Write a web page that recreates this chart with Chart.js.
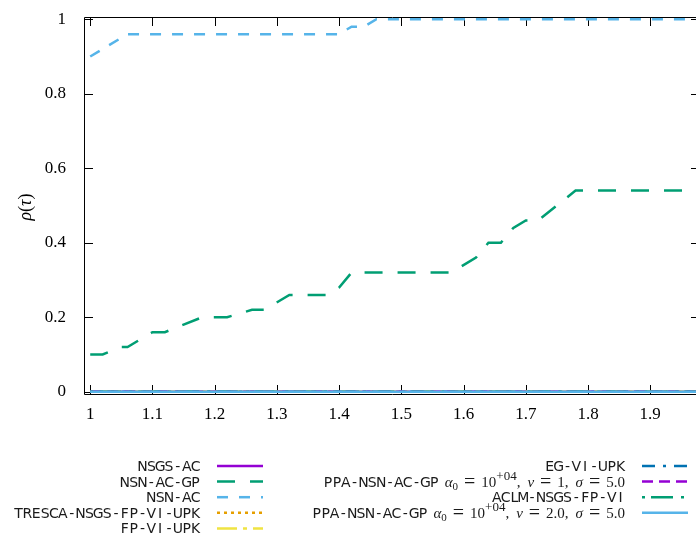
<!DOCTYPE html>
<html>
<head>
<meta charset="utf-8">
<script src="https://cdn.jsdelivr.net/npm/chart.js@4.4.1/dist/chart.umd.min.js"></script>
<style>
  html, body { margin: 0; padding: 0; background: #fff; overflow: hidden; }
  #wrap { width: 710px; height: 535px; }
</style>
</head>
<body>
<div id="wrap"><canvas id="profile" width="710" height="535"></canvas></div>
<script>
// tick values
const xTicks = [1, 1.1, 1.2, 1.3, 1.4, 1.5, 1.6, 1.7, 1.8, 1.9];
const yTicks = [0, 0.2, 0.4, 0.6, 0.8, 1];

// performance profiles (tau, rho)
const tauNsnAc = [1, 1.06, 1.40, 1.42, 1.44, 1.46, 2];
const rhoNsnAc = [0.90, 0.96, 0.96, 0.98, 0.98, 1.00, 1.00];

const tauNsnAcGp = [1, 1.02, 1.05, 1.06, 1.10, 1.12, 1.18, 1.22, 1.26, 1.28, 1.32, 1.38, 1.40, 1.42,
                    1.58, 1.62, 1.64, 1.66, 1.68, 1.70, 1.72, 1.78, 2];
const rhoNsnAcGp = [0.10, 0.10, 0.12, 0.12, 0.16, 0.16, 0.20, 0.20, 0.22, 0.22, 0.26, 0.26, 0.28, 0.32,
                    0.32, 0.36, 0.40, 0.40, 0.44, 0.46, 0.46, 0.54, 0.54];

// solvers that never reach a solution
const tauZero = [1, 2];
const rhoZero = [0, 0];

// legend labels: plain text is sans, {i:..} italic math, {r:..} roman math,
// {eq} equals sign, {sub:..}/{sup:..}, {sp:n} a gap of n px
const labels = [
  'NSGS-AC',
  'NSN-AC-GP',
  'NSN-AC',
  'TRESCA-NSGS-FP-VI-UPK',
  'FP-VI-UPK',
  'EG-VI-UPK',
  'PPA-NSN-AC-GP{sp:6}{i:α}{sub:0}{sp:6}{eq}{sp:6}{r:10}{sup:+04}{r:,}{sp:7}{i:ν}{sp:6}{eq}{sp:6}{r:1,}{sp:7}{i:σ}{sp:6}{eq}{sp:6}{r:5.0}',
  'ACLM-NSGS-FP-VI',
  'PPA-NSN-AC-GP{sp:6}{i:α}{sub:0}{sp:6}{eq}{sp:6}{r:10}{sup:+04}{r:,}{sp:7}{i:ν}{sp:6}{eq}{sp:6}{r:2.0,}{sp:7}{i:σ}{sp:6}{eq}{sp:6}{r:5.0}'
];
const colors = ['#9400d3', '#009e73', '#56b4e9', '#e69f00', '#f0e442', '#0072b2', '#9400d3', '#009e73', '#56b4e9'];
const dashes = [[], [18, 15], [11, 11], [3, 4], [20, 6, 4, 6], [13, 8, 3, 8], [11, 6], [3, 6, 22, 8], []];

function pts(t, r) { return t.map((v, i) => ({x: v, y: r[i]})); }
const series = [
  pts(tauZero, rhoZero), pts(tauNsnAcGp, rhoNsnAcGp), pts(tauNsnAc, rhoNsnAc),
  pts(tauZero, rhoZero), pts(tauZero, rhoZero), pts(tauZero, rhoZero),
  pts(tauZero, rhoZero), pts(tauZero, rhoZero), pts(tauZero, rhoZero)
];

const SANS = '"DejaVu Sans"';
const SERIF = '"Liberation Serif"';
const ADV = 8.85; // legend sans text advance per character

function parseRich(s) {
  const out = [];
  const re = /\{(i|r|sub|sup|sp|eq):?([^}]*)\}|([^{]+)/g;
  let m;
  while ((m = re.exec(s))) {
    if (m[3] !== undefined) out.push({t: m[3], k: 's'});
    else out.push({t: m[2], k: m[1]});
  }
  return out;
}
function segFont(k, big) {
  const sz = big ? 18 : 15;
  if (k === 's') return ['14px ' + SANS, 0];
  if (k === 'i') return ['italic ' + sz + 'px ' + SERIF, 0];
  if (k === 'r') return [sz + 'px ' + SERIF, 0];
  if (k === 'eq') return ['20px ' + SERIF, 1];
  if (k === 'sub') return ['11px ' + SERIF, 3];
  return ['13px ' + SERIF, -7];
}
function drawRich(ctx, segs, x, base, align, big) {
  let w = 0;
  segs.forEach(sg => {
    if (sg.k === 'sp') sg.w = +sg.t;
    else if (sg.k === 's') sg.w = sg.t.length * ADV;
    else {
      if (sg.k === 'eq') sg.t = '=';
      ctx.font = segFont(sg.k, big)[0];
      sg.w = ctx.measureText(sg.t).width;
    }
    w += sg.w;
  });
  let cx = align === 'center' ? x - w / 2 : x - w;
  ctx.textBaseline = 'alphabetic';
  segs.forEach(sg => {
    if (sg.k === 'sp') { cx += sg.w; return; }
    const f = segFont(sg.k, big);
    ctx.font = f[0];
    if (sg.k === 's') {
      ctx.textAlign = 'center';
      [...sg.t].forEach((ch, j) => ctx.fillText(ch, cx + (j + 0.5) * ADV, base));
    } else {
      ctx.textAlign = 'left';
      ctx.fillText(sg.t, cx, base + f[1]);
    }
    cx += sg.w;
  });
}

const frame = {
  id: 'frame',
  beforeDatasetsDraw(chart) {
    const {ctx, chartArea: a, scales: {x, y}} = chart;
    ctx.save();
    ctx.strokeStyle = '#000';
    ctx.lineWidth = 1;
    ctx.beginPath();
    ctx.rect(a.left + 0.5, a.top + 0.5, a.right - a.left, a.bottom - a.top);
    xTicks.forEach(v => {
      const px = Math.round(x.getPixelForValue(v)) + 0.5;
      ctx.moveTo(px, a.bottom); ctx.lineTo(px, a.bottom - 9);
      ctx.moveTo(px, a.top); ctx.lineTo(px, a.top + 9);
    });
    yTicks.forEach(v => {
      const py = Math.round(y.getPixelForValue(v)) + 0.5;
      ctx.moveTo(a.left, py); ctx.lineTo(a.left + 9, py);
      ctx.moveTo(a.right, py); ctx.lineTo(a.right - 9, py);
    });
    ctx.stroke();
    ctx.restore();
  },
  afterDraw(chart) {
    const ctx = chart.ctx;
    ctx.save();
    // y axis title
    ctx.fillStyle = '#000';
    ctx.translate(31, 207);
    ctx.rotate(-Math.PI / 2);
    drawRich(ctx, parseRich('{i:ρ}{r:(}{i:τ}{r:)}'), 0, 0, 'center', true);
    ctx.restore();

    // legend
    chart.data.datasets.forEach((ds, i) => {
      const col = i < 5 ? 0 : 1;
      const row = col ? i - 5 : i;
      const yc = 466 + row * 15.6;
      const textRight = col ? 625 : 200;
      const x0 = col ? 642 : 217;
      ctx.save();
      ctx.strokeStyle = ds.borderColor;
      ctx.lineWidth = 2.5;
      ctx.setLineDash(ds.borderDash);
      ctx.beginPath();
      ctx.moveTo(x0, yc);
      ctx.lineTo(x0 + 46, yc);
      ctx.stroke();
      ctx.restore();
      ctx.save();
      ctx.fillStyle = '#1a1a1a';
      drawRich(ctx, parseRich(ds.label), textRight, yc + 5, 'right');
      ctx.restore();
    });
  }
};

const tickFmt = v => String(Math.round(v * 10) / 10);

new Chart(document.getElementById('profile').getContext('2d'), {
  type: 'line',
  data: {
    datasets: series.map((d, i) => ({
      label: labels[i],
      data: d,
      borderColor: colors[i],
      backgroundColor: colors[i],
      borderDash: dashes[i],
      borderWidth: 2.5,
      pointRadius: 0,
      tension: 0,
      fill: false,
      order: series.length - i,
    })),
  },
  options: {
    responsive: false,
    animation: false,
    devicePixelRatio: 1,
    layout: { padding: { left: 0, right: 10, top: 17, bottom: 0 } },
    plugins: { legend: { display: false }, tooltip: { enabled: false } },
    scales: {
      x: {
        type: 'linear',
        min: 0.99,
        max: 1.98,
        grid: { display: false, drawTicks: true, tickLength: 10 },
        border: { display: false },
        afterBuildTicks: s => { s.ticks = xTicks.map(v => ({value: v})); },
        afterFit: s => { s.height = 141; },
        ticks: { callback: tickFmt, color: '#000', padding: 0, maxRotation: 0, autoSkip: false,
                 font: { family: SERIF, size: 17 } },
      },
      y: {
        min: -0.006,
        max: 1.006,
        grid: { display: false, drawTicks: true, tickLength: 18 },
        border: { display: false },
        afterBuildTicks: s => { s.ticks = yTicks.map(v => ({value: v})); },
        afterFit: s => { s.width = 84; },
        ticks: { callback: tickFmt, color: '#000', padding: 0,
                 font: { family: SERIF, size: 17 } },
      },
    },
  },
  plugins: [frame],
});
</script>
</body>
</html>
